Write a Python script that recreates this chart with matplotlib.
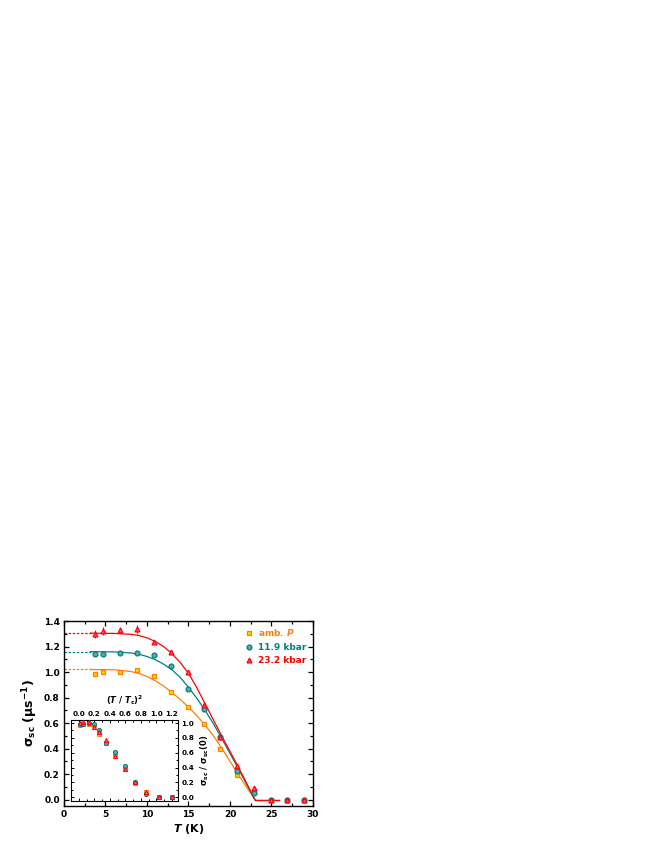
import numpy as np
import matplotlib
matplotlib.use('Agg')
import matplotlib.pyplot as plt
from matplotlib.lines import Line2D

# measured points, sigma_sc (us^-1) vs T (K)
T = [3.7, 4.7, 6.7, 8.8, 10.8, 12.9, 14.9, 16.9, 18.8, 20.8, 22.9, 24.9, 26.9, 28.9]
sig_amb = [0.982, 1.003, 0.998, 1.017, 0.972, 0.843, 0.729, 0.592, 0.40, 0.195, 0.071, 0.0, 0.0, 0.0]
sig_119 = [1.143, 1.143, 1.153, 1.150, 1.132, 1.048, 0.869, 0.711, 0.487, 0.221, 0.05, 0.0, 0.0, 0.0]
sig_232 = [1.300, 1.320, 1.330, 1.340, 1.238, 1.156, 0.998, 0.742, 0.492, 0.260, 0.095, 0.0, 0.0, 0.0]
err_amb = [0.015, 0.015, 0.015, 0.015, 0.015, 0.012, 0.012, 0.012, 0.012, 0.012, 0.012, 0.01, 0.01, 0.01]
err_119 = [0.015, 0.015, 0.015, 0.015, 0.015, 0.012, 0.012, 0.012, 0.012, 0.012, 0.012, 0.01, 0.01, 0.01]
err_232 = [0.03, 0.03, 0.025, 0.03, 0.015, 0.015, 0.012, 0.012, 0.012, 0.012, 0.012, 0.01, 0.01, 0.01]

# fit curves
T_fit = [3.2, 6, 8, 9, 10, 11, 12, 13, 14, 15, 16, 17, 18, 19, 20, 21, 22, 23]
fit_amb = [1.02, 1.018, 1.005, 0.99, 0.965, 0.932, 0.89, 0.84, 0.785, 0.725, 0.658, 0.585, 0.50, 0.405, 0.30, 0.197, 0.097, 0.0]
fit_119 = [1.16, 1.158, 1.15, 1.14, 1.122, 1.097, 1.062, 1.018, 0.958, 0.88, 0.795, 0.70, 0.595, 0.48, 0.362, 0.242, 0.121, 0.0]
fit_232 = [1.305, 1.303, 1.296, 1.287, 1.268, 1.24, 1.2, 1.145, 1.075, 0.99, 0.878, 0.752, 0.625, 0.5, 0.378, 0.256, 0.13, 0.0]
T_dash = [0, 3.2]
T_tail = [23, 25.9]

# inset: normalised sigma vs (T/Tc)^2
u_in = [0.01, 0.06, 0.13, 0.194, 0.267, 0.353, 0.47, 0.59, 0.72, 0.87, 1.03, 1.205]
v_amb = [0.97, 0.99, 0.99, 0.97, 0.848, 0.735, 0.587, 0.40, 0.19, 0.07, 0.0, 0.0]
v_119 = [0.99, 0.99, 0.995, 0.99, 0.906, 0.735, 0.61, 0.42, 0.205, 0.05, 0.0, 0.0]
v_232 = [1.0, 1.01, 1.02, 0.946, 0.879, 0.767, 0.556, 0.377, 0.20, 0.07, 0.0, 0.0]

labels = [r'amb. $\boldsymbol{P}$', '11.9 kbar', '23.2 kbar']
lcol = ['#FF8000', '#008080', '#FF0000']
fcol = ['#FFD700', '#5FA8A8', '#FF4FA0']
mk = ['s', 'o', '^']

plt.rcParams['font.family'] = 'DejaVu Sans'
plt.rcParams['font.weight'] = 'bold'

fig = plt.figure(figsize=(6.63, 8.58), dpi=100)
ax = fig.add_axes([0.0965, 0.0606, 0.3756, 0.2156])

sig = [sig_amb, sig_119, sig_232]
err = [err_amb, err_119, err_232]
fits = [fit_amb, fit_119, fit_232]

for i in range(3):
    ax.plot(T_dash, [fits[i][0]] * 2, ls=(0, (2, 1.3)), color=lcol[i], lw=0.9)
    ax.plot(T_fit, fits[i], color=lcol[i], lw=0.9)
    ax.plot(T_tail, [0, 0], color=lcol[i], lw=0.9)
for i in range(3):
    ax.errorbar(T, sig[i], yerr=err[i], fmt=mk[i], ms=3.5, mfc=fcol[i], mec=lcol[i],
                mew=0.9, ecolor=lcol[i], elinewidth=0.8, capsize=0, zorder=3 + i)

ax.set_xlim(0, 30)
ax.set_ylim(-0.05, 1.4)
ax.set_xticks(np.arange(0, 31, 5))
ax.set_yticks(np.arange(0, 1.41, 0.2))
ax.set_xticks(np.arange(0, 30.1, 2.5), minor=True)
ax.set_yticks(np.arange(0, 1.41, 0.1), minor=True)
ax.tick_params(which='both', direction='in', top=True, right=True, width=0.9, labelsize=6.5, pad=3)
ax.tick_params(which='major', length=3.5)
ax.tick_params(which='minor', length=2)
for s in ax.spines.values():
    s.set_linewidth(1.0)
ax.set_xlabel(r'$\boldsymbol{T}$ (K)', fontsize=8, fontweight='bold', labelpad=2)
ax.set_ylabel(r'$\mathbf{\sigma_{sc}\ (\mu s^{-1})}$', fontsize=9, labelpad=3)

handles = [Line2D([], [], ls='none', marker=mk[i], ms=3.5, mfc=fcol[i], mec=lcol[i], mew=0.9)
           for i in range(3)]
ax.legend(handles, labels, loc='upper right', frameon=False,
          labelcolor=lcol, handlelength=1.0, handletextpad=0.5, borderaxespad=0.3,
          labelspacing=0.5, prop={'weight': 'bold', 'size': 6.5})

# inset
ins = fig.add_axes([0.1071, 0.0664, 0.1614, 0.0944])
for i in range(3):
    ins.plot(u_in, [v_amb, v_119, v_232][i], ls='none', marker=mk[i], ms=3.0,
             mfc=fcol[i], mec=lcol[i], mew=0.7, zorder=3 + i)
ins.set_xlim(-0.1, 1.28)
ins.set_ylim(-0.05, 1.04)
ins.set_xticks(np.arange(0, 1.21, 0.2))
ins.set_yticks(np.arange(0, 1.01, 0.2))
ins.set_xticks(np.arange(0, 1.21, 0.1), minor=True)
ins.set_yticks(np.arange(0, 1.01, 0.1), minor=True)
ins.xaxis.tick_top()
ins.yaxis.tick_right()
ins.xaxis.set_label_position('top')
ins.yaxis.set_label_position('right')
ins.tick_params(which='both', direction='in', top=True, bottom=True, left=True, right=True,
                labeltop=True, labelbottom=False, labelright=True, labelleft=False,
                width=0.7, labelsize=5.2, pad=2.5)
ins.tick_params(which='major', length=2.5)
ins.tick_params(which='minor', length=1.5)
for s in ins.spines.values():
    s.set_linewidth(0.8)
ins.set_xlabel(r'$\mathbf{(\mathit{T}\ /\ \mathit{T}_c)^2}$', fontsize=6, labelpad=5)
ins.set_ylabel(r'$\mathbf{\sigma_{sc}\ /\ \sigma_{sc}(0)}$', fontsize=6, labelpad=3)

fig.savefig('out.png', dpi=100)
